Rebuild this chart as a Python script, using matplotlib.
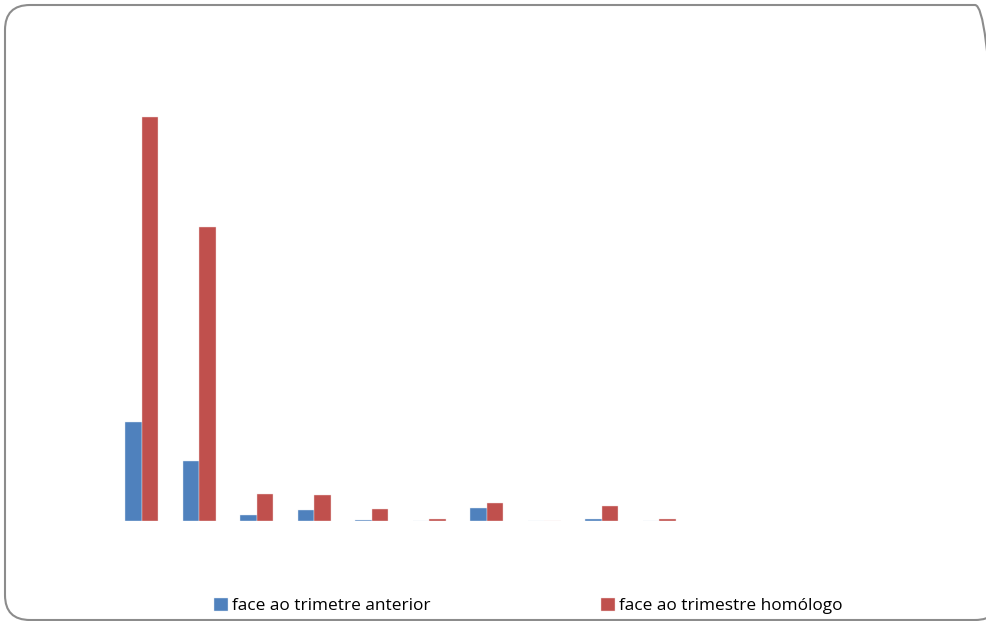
import matplotlib.pyplot as plt
import numpy as np
from matplotlib.patches import FancyBboxPatch

# values (arbitrary units, pixel heights)
categories = ['1', '2', '3', '4', '5', '6', '7', '8', '9', '10']
anterior = [99, 60, 6, 11, 1, 0.5, 13, 0.3, 2.5, 0.5]
homologo = [404, 294, 27, 26, 12, 2, 18, 0.3, 15, 2]
labels = ['face ao trimetre anterior', 'face ao trimestre homólogo']

plt.rcParams['font.family'] = ['Open Sans', 'DejaVu Sans']

fig = plt.figure(figsize=(9.86, 6.21), dpi=100)

W, H = 986, 621
ax = fig.add_axes([113 / W, (H - 521) / H, 805 / W, 461 / H])

x = np.arange(len(categories))
w = 0.29
b1 = ax.bar(x - w / 2, anterior, w, color='#4F81BD', edgecolor='#dfe8f3', linewidth=0.3)
b2 = ax.bar(x + w / 2, homologo, w, color='#C0504D', edgecolor='#f2dcdb', linewidth=0.3)

ax.set_xlim(-0.5, 13.5)
ax.set_ylim(0, 461)
ax.axis('off')

fig.legend([b1, b2], labels, loc='center left', bbox_to_anchor=(214 / W, (H - 606) / H),
           ncol=2, frameon=False, fontsize=12.4, handlelength=0.8, handleheight=0.8,
           handletextpad=0.25, columnspacing=9.9, borderaxespad=0, borderpad=0)

# rounded outer frame, running off the right edge like the original
frame = FancyBboxPatch((0.05, 0.01), 9.95, 6.15, boxstyle='round,pad=0,rounding_size=0.25',
                       transform=fig.dpi_scale_trans, facecolor='none',
                       edgecolor='#8c8c8c', linewidth=1.5)
fig.patches.append(frame)

fig.savefig('out.png', dpi=100)
